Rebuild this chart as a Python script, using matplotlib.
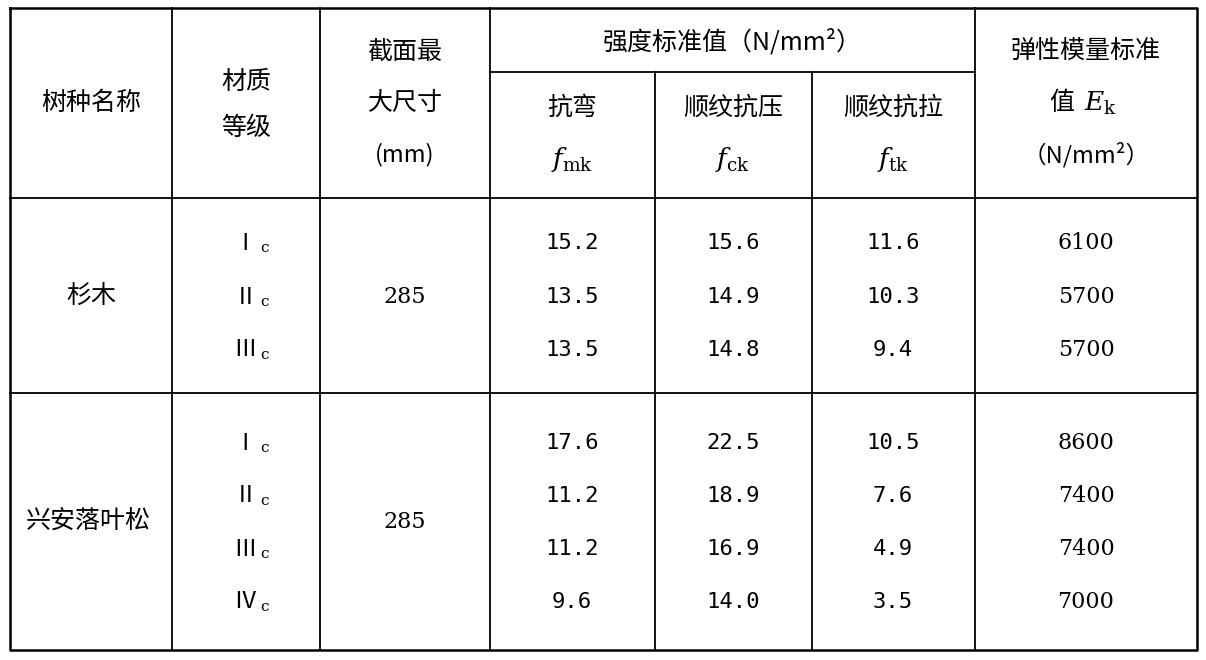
import matplotlib
matplotlib.use("Agg")
import matplotlib.pyplot as plt

plt.rcParams['font.family'] = ['Noto Sans CJK SC', 'DejaVu Sans']
plt.rcParams['mathtext.fontset'] = 'dejavuserif'

species = ["杉木", "兴安落叶松"]
grades = [["Ⅰ", "Ⅱ", "Ⅲ"], ["Ⅰ", "Ⅱ", "Ⅲ", "Ⅳ"]]
max_size = ["285", "285"]
f_mk = [["15.2", "13.5", "13.5"], ["17.6", "11.2", "11.2", "9.6"]]
f_ck = [["15.6", "14.9", "14.8"], ["22.5", "18.9", "16.9", "14.0"]]
f_tk = [["11.6", "10.3", "9.4"], ["10.5", "7.6", "4.9", "3.5"]]
E_k = [["6100", "5700", "5700"], ["8600", "7400", "7400", "7000"]]

fig = plt.figure(figsize=(12.06, 6.6), dpi=100)
ax = fig.add_axes([0, 0, 1, 1])
ax.set_xlim(0, 1206); ax.set_ylim(660, 0); ax.axis('off')

L, R, T, B = 10, 1197, 8, 650
cols = [10, 172, 320, 490, 655, 812, 975, 1197]
lw = 1.3
k = dict(color='black', lw=lw)
ax.plot([L, R, R, L, L], [T, T, B, B, T], color='black', lw=1.8)
for x in cols[1:-1]:
    if x in (655, 812):
        ax.plot([x, x], [72, B], **k)
    else:
        ax.plot([x, x], [T, B], **k)
ax.plot([490, 975], [72, 72], **k)
ax.plot([L, R], [198, 198], **k)
ax.plot([L, R], [393, 393], **k)

fs = 18
def t(x, y, s, size=fs, **kw):
    ax.text(x, y, s, ha='center', va='center', fontsize=size, **kw)

t(91, 103, "树种名称")
t(246, 82, "材质")
t(246, 128, "等级")
t(405, 52, "截面最")
t(405, 103, "大尺寸")
t(405, 155, "(mm)", size=17)
t(732, 42, "强度标准值（N/mm²）")
t(572, 108, "抗弯")
t(733, 108, "顺纹抗压")
t(893, 108, "顺纹抗拉")
t(572, 160, r"$f_{\rm mk}$", size=19)
t(733, 160, r"$f_{\rm ck}$", size=19)
t(893, 160, r"$f_{\rm tk}$", size=19)
t(1086, 52, "弹性模量标准")
t(1062, 103, "值")
t(1100, 103, r"$E_{\rm k}$", size=19)
t(1086, 155, "（N/mm²）", size=17)

row_ys = [[243, 297, 350], [443, 496, 549, 602]]
group_c = [297, 522]
for g in range(2):
    t(91 if g == 0 else 88, group_c[g], species[g])
    t(405, group_c[g], max_size[g], size=16, family='DejaVu Serif')
    for i, y in enumerate(row_ys[g]):
        ax.text(257, y, grades[g][i], ha='right', va='center', fontsize=17)
        ax.text(260, y + 5, "c", ha='left', va='center', fontsize=11, family='DejaVu Serif')
        t(572, y, f_mk[g][i], size=16, family='DejaVu Sans Mono')
        t(733, y, f_ck[g][i], size=16, family='DejaVu Sans Mono')
        t(893, y, f_tk[g][i], size=16, family='DejaVu Sans Mono')
        t(1086, y, E_k[g][i], size=16, family='DejaVu Serif')

fig.savefig("out.png", dpi=100, facecolor='white')
